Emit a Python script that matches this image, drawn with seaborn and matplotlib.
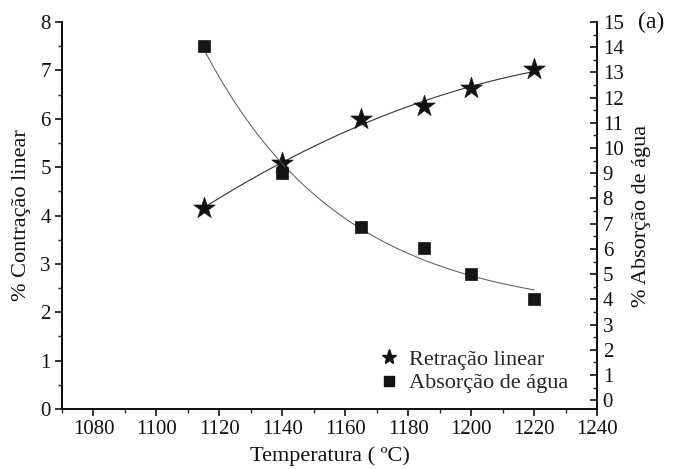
import numpy as np
import pandas as pd
import matplotlib
matplotlib.use("Agg")
import matplotlib.pyplot as plt
import seaborn as sns
from matplotlib.ticker import MultipleLocator
from matplotlib.lines import Line2D

sns.set_style("ticks")
plt.rcParams['font.family'] = ['Liberation Serif', 'DejaVu Serif']

temperature = [1115, 1140, 1165, 1185, 1200, 1220]
retracao = [4.15, 5.08, 6.0, 6.27, 6.63, 7.02]
absorcao = [14.05, 9.0, 6.85, 6.05, 5.0, 4.02]

df = pd.DataFrame({"T": temperature, "ret": retracao, "abs": absorcao})

# smooth fitted curves (derived from the data)
t = np.array(temperature, float)
xs = np.linspace(t.min(), t.max(), 200)
c_ret = np.polyfit(t, retracao, 2)
# exponential decay with offset: y = a + b*exp(-k*(x - x0)), k by grid search
best = None
for k in np.linspace(0.005, 0.2, 400):
    e = np.exp(-k * (t - t.min()))
    A = np.vstack([np.ones_like(e), e]).T
    coef, res, *_ = np.linalg.lstsq(A, np.array(absorcao), rcond=None)
    r = np.sum((A @ coef - np.array(absorcao)) ** 2)
    if best is None or r < best[0]:
        best = (r, k, coef)
_, k_abs, (a_abs, b_abs) = best
fit = pd.DataFrame({"T": xs,
                    "ret": np.polyval(c_ret, xs),
                    "abs": a_abs + b_abs * np.exp(-k_abs * (xs - t.min()))})

fig = plt.figure(figsize=(6.74, 4.69), dpi=100)
ax = fig.add_axes([0.092, 0.128, 0.794, 0.825])
ax2 = ax.twinx()

sns.lineplot(data=fit, x="T", y="ret", ax=ax, color="#333333", lw=0.8)
sns.scatterplot(data=df, x="T", y="ret", ax=ax, marker="*", s=260, color="#111111",
                edgecolor="#111111", linewidth=0.5, zorder=5)
sns.lineplot(data=fit, x="T", y="abs", ax=ax2, color="#555555", lw=0.7)
sns.scatterplot(data=df, x="T", y="abs", ax=ax2, marker="s", s=70, color="#151515",
                edgecolor="#151515", linewidth=0.5, zorder=5)

ax.set_xlim(1070, 1240)
ax.set_ylim(0, 8)
ax2.set_ylim(-0.35, 15)
ax.set_xticks([1080, 1100, 1120, 1140, 1160, 1180, 1200, 1220, 1240])
ax.xaxis.set_minor_locator(MultipleLocator(10))
ax.yaxis.set_major_locator(MultipleLocator(1))
ax.yaxis.set_minor_locator(MultipleLocator(0.5))
ax2.yaxis.set_major_locator(MultipleLocator(1))
ax2.yaxis.set_minor_locator(MultipleLocator(0.5))

for a in (ax, ax2):
    a.spines['top'].set_visible(False)
    for s in a.spines.values():
        s.set_linewidth(1.3)
        s.set_color("#111111")

ax.tick_params(axis='both', which='major', direction='out', length=5, width=1.2,
               labelsize=15, colors="#111111", pad=3)
ax.tick_params(axis='both', which='minor', direction='out', length=3, width=1.0)
ax2.tick_params(axis='y', which='major', direction='in', length=5, width=1.2,
                labelsize=15, colors="#111111", pad=4)
ax2.tick_params(axis='y', which='minor', direction='in', length=3, width=1.0)

ax.set_xlabel("Temperatura ( ºC)", fontsize=16, color="#111111", labelpad=5)
ax.set_ylabel("% Contração linear", fontsize=16, color="#111111", labelpad=7)
ax2.set_ylabel("% Absorção de água", fontsize=16, color="#111111", labelpad=6)

fig.text(0.947, 0.952, "(a)", fontsize=17, color="#111111", ha='left', va='center')

handles = [Line2D([], [], marker='*', ls='none', color='#111111', markersize=11),
           Line2D([], [], marker='s', ls='none', color='#111111', markersize=7)]
ax.legend(handles, ["Retração linear", "Absorção de água"], loc='lower right',
          bbox_to_anchor=(0.975, 0.0), frameon=False, fontsize=16, handletextpad=0.3,
          handlelength=1.2, labelspacing=0.15, borderaxespad=0.3)

fig.savefig("out.png", dpi=100)
